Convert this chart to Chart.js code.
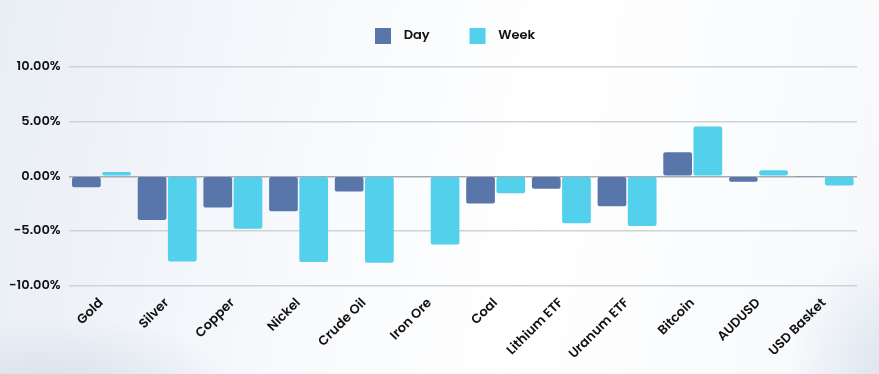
<!DOCTYPE html>
<html>
<head>
<meta charset="utf-8">
<script src="https://cdn.jsdelivr.net/npm/chart.js@4.4.1/dist/chart.umd.min.js"></script>
<style>
  html, body { margin: 0; padding: 0; }
  body {
    width: 879px; height: 374px; overflow: hidden;
    background:
      radial-gradient(ellipse 260px 120px at 60px 400px, rgba(190,205,220,0.55), rgba(190,205,220,0) 70%),
      radial-gradient(ellipse 160px 200px at 900px 380px, rgba(195,210,225,0.6), rgba(195,210,225,0) 70%),
      linear-gradient(100deg, #e9eef5 0%, #f7f9fc 35%, #ffffff 60%, #f6f8fb 100%);
  }
  #wrap { position: relative; width: 879px; height: 374px; }
</style>
</head>
<body>
<div id="wrap"><canvas id="moveChart"></canvas></div>
<script>
const categories = ["Gold", "Silver", "Copper", "Nickel", "Crude Oil", "Iron Ore", "Coal",
    "Lithium ETF", "Uranum ETF", "Bitcoin", "AUDUSD", "USD Basket"];
const dayValues = [-1.0, -4.0, -2.85, -3.2, -1.4, 0, -2.5, -1.15, -2.75, 2.2, -0.5, -0.05];
const weekValues = [0.4, -7.8, -4.8, -7.85, -7.9, -6.25, -1.55, -4.3, -4.55, 4.55, 0.55, -0.85];
const yTicks = [-10, -5, 0, 5, 10];

const font = "Poppins, Inter, 'Noto Sans', sans-serif";

// extra room under the legend
const legendGap = {
    id: "legendGap",
    beforeInit(chart) {
        const fit = chart.legend.fit;
        chart.legend.fit = function () {
            fit.bind(chart.legend)();
            this.height += 13;
        };
    }
};

window.addEventListener("DOMContentLoaded", () => {
    const ctx = document.getElementById("moveChart");

    new Chart(ctx, {
        type: "bar",
        data: {
            labels: categories,
            datasets: [
                {
                    label: "Day",
                    data: dayValues,
                    backgroundColor: "#5976ab",
                    borderRadius: 2,
                    borderSkipped: false
                },
                {
                    label: "Week",
                    data: weekValues,
                    backgroundColor: "#53d0eb",
                    borderRadius: 2,
                    borderSkipped: false
                }
            ]
        },
        plugins: [legendGap],
        options: {
            responsive: true,
            maintainAspectRatio: false,
            animation: false,
            layout: { padding: { left: 1, right: 22, top: 16, bottom: 10 } },
            datasets: {
                bar: { categoryPercentage: 0.92, barPercentage: 0.95 }
            },
            plugins: {
                tooltip: { enabled: false },
                legend: {
                    position: "top",
                    fullSize: false,
                    labels: {
                        boxWidth: 16,
                        boxHeight: 16,
                        padding: 12,
                        color: "#111",
                        font: { family: font, size: 13, weight: "600" },
                        generateLabels: chart => Chart.defaults.plugins.legend.labels.generateLabels(chart)
                            .map((l, i) => Object.assign(l, {
                                text: "  " + l.text + (i === 0 ? "         " : "     "),
                                lineWidth: 0
                            }))
                    }
                }
            },
            scales: {
                x: {
                    grid: { display: false },
                    border: { display: false },
                    ticks: {
                        color: "#111",
                        maxRotation: 45,
                        minRotation: 45,
                        padding: 2,
                        font: { family: font, size: 13, weight: "600" }
                    }
                },
                y: {
                    min: -10,
                    max: 10,
                    afterBuildTicks: axis => { axis.ticks = yTicks.map(v => ({ value: v })); },
                    border: { display: false },
                    grid: {
                        color: c => c.tick && c.tick.value === 0 ? "#a9abb0" : "#cfd2d6",
                        lineWidth: 1.5,
                        drawTicks: false
                    },
                    ticks: {
                        color: "#111",
                        padding: 8,
                        font: { family: font, size: 13, weight: "600" },
                        callback: v => v.toFixed(2) + "%"
                    }
                }
            }
        }
    });
});
</script>
</body>
</html>
